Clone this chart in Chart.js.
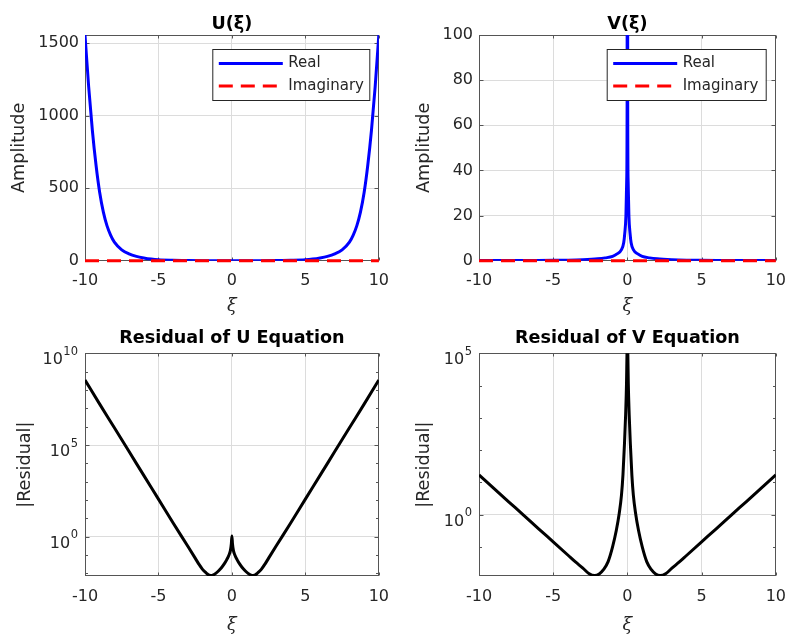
<!DOCTYPE html>
<html>
<head>
<meta charset="utf-8">
<script src="https://cdn.jsdelivr.net/npm/chart.js@4.4.0/dist/chart.umd.min.js"></script>
<style>
  html, body { margin: 0; padding: 0; background: #fff; }
  body { width: 797px; height: 634px; position: relative; overflow: hidden; }
  canvas { position: absolute; }
</style>
</head>
<body>
<canvas id="cU" width="400" height="317" style="left:0;top:0"></canvas>
<canvas id="cV" width="397" height="317" style="left:400px;top:0"></canvas>
<canvas id="cRU" width="400" height="317" style="left:0;top:317px"></canvas>
<canvas id="cRV" width="397" height="317" style="left:400px;top:317px"></canvas>
<script>
// ---- tick values ----
const xTicks = [-10, -5, 0, 5, 10];
const uTicks = [0, 500, 1000, 1500];
const vTicks = [0, 20, 40, 60, 80, 100];
const ruTicks = [1e0, 1e5, 1e10];
const rvTicks = [1e0, 1e5];
const ruMinor = [1e-2, 1e-1, 1e1, 1e2, 1e3, 1e4, 1e6, 1e7, 1e8, 1e9];
const rvMinor = [1e-1, 1e1, 1e2, 1e3, 1e4];

// ---- U(xi) ----
const uXi = [-10, -9.75, -9.5, -9.25, -9, -8.75, -8.5, -8.25, -8, -7.5, -7, -6.5, -6, -5.5, -5, -4, -3, -2, -1,
  0, 1, 2, 3, 4, 5, 5.5, 6, 6.5, 7, 7.5, 8, 8.25, 8.5, 8.75, 9, 9.25, 9.5, 9.75, 10];
const uReal = [1557, 1200, 900, 660, 470, 335, 240, 175, 128, 75, 47, 30, 19, 11, 6, 2.5, 1.1, 0.5, 0.3,
  0.2, 0.3, 0.5, 1.1, 2.5, 6, 11, 19, 30, 47, 75, 128, 175, 240, 335, 470, 660, 900, 1200, 1557];
const uImagXi = [-10, 10];
const uImag = [0, 0];

// ---- V(xi) ----
const vXi = [-10, -8, -6, -5, -4, -3, -2, -1.5, -1, -0.7, -0.4, -0.25, -0.18, -0.1, -0.05, -0.02,
  0, 0.02, 0.05, 0.1, 0.18, 0.25, 0.4, 0.7, 1, 1.5, 2, 3, 4, 5, 6, 8, 10];
const vReal = [0.08, 0.1, 0.13, 0.17, 0.25, 0.45, 0.85, 1.25, 1.9, 3.0, 4.9, 8, 12, 20, 35, 70,
  400, 70, 35, 20, 12, 8, 4.9, 3.0, 1.9, 1.25, 0.85, 0.45, 0.25, 0.17, 0.13, 0.1, 0.08];
const vImagXi = [-10, 10];
const vImag = [0, 0];

// ---- residual of U equation ----
const ruXi = [-10, -9, -8, -7, -6, -5, -4, -3, -2.5, -2.25, -2, -1.75, -1.6, -1.45, -1.3, -1.1, -0.9, -0.7, -0.5, -0.35, -0.2, -0.1, -0.04,
  0, 0.04, 0.1, 0.2, 0.35, 0.5, 0.7, 0.9, 1.1, 1.3, 1.45, 1.6, 1.75, 2, 2.25, 2.5, 3, 4, 5, 6, 7, 8, 9, 10];
const ruRes = [3.5e8, 1.7e7, 8.7e5, 4.4e4, 2.2e3, 112, 5.6, 0.3, 0.068, 0.032, 0.0166, 0.0105, 0.0083, 0.0076, 0.0079, 0.01, 0.014, 0.021, 0.035, 0.056, 0.1, 0.18, 0.4,
  1.1, 0.4, 0.18, 0.1, 0.056, 0.035, 0.021, 0.014, 0.01, 0.0079, 0.0076, 0.0083, 0.0105, 0.0166, 0.032, 0.068, 0.3, 5.6, 112, 2.2e3, 4.4e4, 8.7e5, 1.7e7, 3.5e8];

// ---- residual of V equation ----
const rvXi = [-10, -9, -8, -7, -6, -5, -4, -3.5, -3, -2.6, -2.2, -1.9, -1.6, -1.3, -1, -0.75, -0.55, -0.4, -0.3, -0.2, -0.12, -0.06, -0.03,
  0, 0.03, 0.06, 0.12, 0.2, 0.3, 0.4, 0.55, 0.75, 1, 1.3, 1.6, 1.9, 2.2, 2.6, 3, 3.5, 4, 5, 6, 7, 8, 9, 10];
const rvRes = [17, 6.5, 2.5, 0.97, 0.37, 0.143, 0.055, 0.034, 0.022, 0.015, 0.0129, 0.0145, 0.02, 0.035, 0.1, 0.32, 1.1, 4, 17, 150, 1250, 1.2e4, 9e4,
  3e5, 9e4, 1.2e4, 1250, 150, 17, 4, 1.1, 0.32, 0.1, 0.035, 0.02, 0.0145, 0.0129, 0.015, 0.022, 0.034, 0.055, 0.143, 0.37, 0.97, 2.5, 6.5, 17];

const pts = (xs, ys) => xs.map((x, i) => ({ x: x, y: ys[i] }));

const INK = '#262626';
const FONT = '"DejaVu Sans", sans-serif';

// frame, inward ticks, log labels (under the curves) and boxed legend (on top)
const axesFrame = {
  id: 'axesFrame',
  beforeDatasetsDraw(chart, args, opts) {
    const { ctx, chartArea: a, scales } = chart;
    const L = Math.round(a.left) + 0.5, R = Math.round(a.right) - 0.5;
    const T = Math.round(a.top) + 0.5, B = Math.round(a.bottom) - 0.5;
    ctx.save();
    ctx.strokeStyle = '#555';
    ctx.lineWidth = 1;
    ctx.beginPath();
    for (const v of xTicks) {
      const px = Math.round(scales.x.getPixelForValue(v)) + 0.5;
      ctx.moveTo(px, B); ctx.lineTo(px, B - 3);
      ctx.moveTo(px, T); ctx.lineTo(px, T + 3);
    }
    for (const t of scales.y.ticks) {
      const py = Math.round(scales.y.getPixelForValue(t.value)) + 0.5;
      ctx.moveTo(L, py); ctx.lineTo(L + 4, py);
      ctx.moveTo(R, py); ctx.lineTo(R - 4, py);
    }
    for (const v of (opts.minor || [])) {
      const py = Math.round(scales.y.getPixelForValue(v)) + 0.5;
      ctx.moveTo(L, py); ctx.lineTo(L + 2.5, py);
      ctx.moveTo(R, py); ctx.lineTo(R - 2.5, py);
    }
    ctx.stroke();
    ctx.strokeRect(L, T, R - L, B - T);

    if (opts.logLabels) {
      ctx.fillStyle = INK;
      ctx.textBaseline = 'alphabetic';
      for (const t of scales.y.ticks) {
        const py = scales.y.getPixelForValue(t.value);
        const exp = String(Math.round(Math.log10(t.value)));
        const edge = a.left - 7;
        ctx.font = '11.5px ' + FONT;
        const ew = ctx.measureText(exp).width;
        ctx.textAlign = 'left';
        ctx.fillText(exp, edge - ew, py + 1.5);
        ctx.font = '16px ' + FONT;
        ctx.textAlign = 'right';
        ctx.fillText('10', edge - ew - 0.5, py + 11);
      }
    }
    ctx.restore();
  },
  afterDatasetsDraw(chart, args, opts) {
    const lg = opts.legend;
    if (!lg) return;
    const ctx = chart.ctx;
    ctx.save();
    ctx.fillStyle = '#fff';
    ctx.fillRect(lg.left, lg.top, lg.width, lg.height);
    ctx.strokeStyle = INK;
    ctx.lineWidth = 1;
    ctx.strokeRect(lg.left + 0.5, lg.top + 0.5, lg.width, lg.height);
    chart.data.datasets.forEach((ds, i) => {
      const y = lg.top + 14.5 + i * 22.5;
      ctx.beginPath();
      ctx.strokeStyle = ds.borderColor;
      ctx.lineWidth = ds.borderWidth;
      ctx.setLineDash(ds.borderDash || []);
      ctx.moveTo(lg.left + 6.5, y);
      ctx.lineTo(lg.left + 70.5, y);
      ctx.stroke();
      ctx.setLineDash([]);
      ctx.fillStyle = INK;
      ctx.font = '15px ' + FONT;
      ctx.textAlign = 'left';
      ctx.textBaseline = 'middle';
      ctx.fillText(ds.label, lg.left + 76, y);
    });
    ctx.restore();
  }
};

function panel(id, cfg) {
  const isLog = cfg.yType === 'logarithmic';
  return new Chart(document.getElementById(id), {
    type: 'line',
    data: { datasets: cfg.datasets },
    options: {
      responsive: false,
      animation: false,
      layout: { padding: { right: cfg.padRight } },
      elements: { point: { radius: 0 } },
      scales: {
        x: {
          type: 'linear',
          min: -10,
          max: 10,
          afterBuildTicks: s => { s.ticks = xTicks.map(v => ({ value: v })); },
          afterFit: s => { s.height = cfg.xHeight; },
          ticks: { font: { family: FONT, size: 16 }, color: INK, padding: 11, maxRotation: 0 },
          grid: { color: '#dcdcdc', drawTicks: false },
          border: { display: false },
          title: {
            display: true,
            text: 'ξ',
            color: INK,
            font: { family: '"DejaVu Serif", serif', style: 'italic', size: 17.6, lineHeight: 1 },
            padding: { top: 0, bottom: cfg.xiPad }
          }
        },
        y: {
          type: cfg.yType,
          min: cfg.yMin,
          max: cfg.yMax,
          afterBuildTicks: s => { s.ticks = cfg.yTicks.map(v => ({ value: v })); },
          afterFit: s => { s.width = cfg.yWidth; },
          ticks: {
            display: !isLog,
            font: { family: FONT, size: 16 },
            color: INK,
            padding: 6,
            callback: v => String(v)
          },
          grid: { color: '#dcdcdc', drawTicks: false },
          border: { display: false },
          title: {
            display: true,
            text: cfg.yLabel,
            color: INK,
            font: { family: FONT, size: 17.6 },
            padding: { top: cfg.yLabelPad, bottom: 0 }
          }
        }
      },
      plugins: {
        legend: { display: false },
        tooltip: { enabled: false },
        title: {
          display: true,
          text: cfg.title,
          fullSize: false,
          color: '#000',
          font: { family: FONT, size: 17.6, weight: 'bold', lineHeight: 1.2 },
          padding: cfg.titlePad
        },
        axesFrame: { legend: cfg.legend, minor: cfg.minor, logLabels: isLog }
      }
    },
    plugins: [axesFrame]
  });
}

const realStyle = { borderColor: '#0000ff', borderWidth: 3, cubicInterpolationMode: 'monotone', fill: false, order: 1 };
const imagStyle = { borderColor: '#ff0000', borderWidth: 3, borderDash: [14, 8], fill: false, order: 0, clip: 5 };
const resStyle = { borderColor: '#000000', borderWidth: 3, cubicInterpolationMode: 'monotone', fill: false };

panel('cU', {
  title: 'U(ξ)',
  titlePad: { top: 13.6, bottom: 0.3 },
  yType: 'linear', yMin: 0, yMax: 1557, yTicks: uTicks,
  yLabel: 'Amplitude', yLabelPad: 8.4, yWidth: 85, padRight: 15,
  xHeight: 56.3, xiPad: 2.2,
  legend: { left: 212.3, top: 49, width: 157, height: 51 },
  datasets: [
    Object.assign({ label: 'Real', data: pts(uXi, uReal) }, realStyle),
    Object.assign({ label: 'Imaginary', data: pts(uImagXi, uImag) }, imagStyle)
  ]
});

panel('cV', {
  title: 'V(ξ)',
  titlePad: { top: 13.6, bottom: 0.3 },
  yType: 'linear', yMin: 0, yMax: 100, yTicks: vTicks,
  yLabel: 'Amplitude', yLabelPad: 13.6, yWidth: 79, padRight: 19,
  xHeight: 56.3, xiPad: 2.2,
  legend: { left: 206.7, top: 49, width: 159, height: 51 },
  datasets: [
    Object.assign({ label: 'Real', data: pts(vXi, vReal) }, realStyle),
    Object.assign({ label: 'Imaginary', data: pts(vImagXi, vImag) }, imagStyle)
  ]
});

panel('cRU', {
  title: 'Residual of U Equation',
  titlePad: { top: 10.9, bottom: 4.3 },
  yType: 'logarithmic', yMin: 7.2e-3, yMax: 1e10, yTicks: ruTicks, minor: ruMinor,
  yLabel: '|Residual|', yLabelPad: 14.9, yWidth: 85, padRight: 15,
  xHeight: 58, xiPad: 0.2,
  datasets: [Object.assign({ label: 'Residual', data: pts(ruXi, ruRes) }, resStyle)]
});

panel('cRV', {
  title: 'Residual of V Equation',
  titlePad: { top: 10.9, bottom: 4.3 },
  yType: 'logarithmic', yMin: 1.25e-2, yMax: 1e5, yTicks: rvTicks, minor: rvMinor,
  yLabel: '|Residual|', yLabelPad: 14.2, yWidth: 79, padRight: 19,
  xHeight: 58, xiPad: 0.2,
  datasets: [Object.assign({ label: 'Residual', data: pts(rvXi, rvRes) }, resStyle)]
});
</script>
</body>
</html>
